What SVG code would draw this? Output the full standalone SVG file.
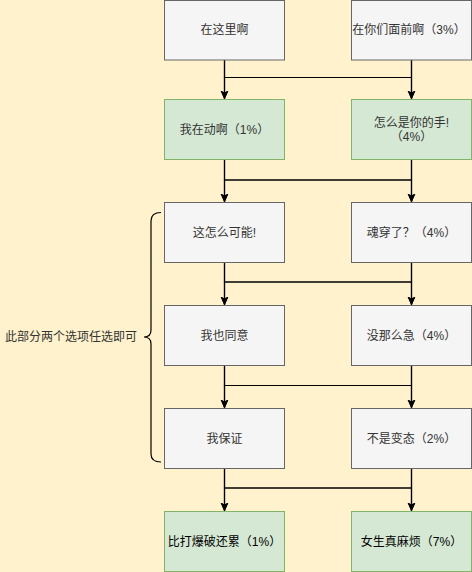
<svg xmlns="http://www.w3.org/2000/svg" width="472" height="572" viewBox="0 0 472 572">
<style>
.g{fill:#f5f5f5;stroke:#666666;stroke-width:1}
.gr{fill:#d5e8d4;stroke:#82b366;stroke-width:1}
text{font-family:"Liberation Sans","Noto Sans CJK SC",sans-serif;font-size:12px;fill:#333333;text-anchor:middle;dominant-baseline:central}
.k{fill:#000000}
.e{fill:none;stroke:#000000;stroke-width:1.2}
</style>
<defs>
<marker id="arr" markerUnits="userSpaceOnUse" markerWidth="10" markerHeight="10" viewBox="0 0 10 10" refX="9" refY="5" orient="auto">
<path d="M0,1 L9,5 L0,9 L2,5 z" fill="#000000"/>
</marker>
</defs>
<rect x="0" y="0" width="472" height="572" fill="#fff2cc"/>
<g id="connectors">
<path class="e" d="M224.5,60 V99.5" marker-end="url(#arr)"/>
<path class="e" d="M411.5,60 V99.5" marker-end="url(#arr)"/>
<path class="e" d="M224.5,60 V77.5 H411.5 V99.5" marker-end="url(#arr)"/>
<path class="e" d="M411.5,60 V77.5 H224.5 V99.5" marker-end="url(#arr)"/>
<path class="e" d="M224.5,159.5 V202.5" marker-end="url(#arr)"/>
<path class="e" d="M411.5,159.5 V202.5" marker-end="url(#arr)"/>
<path class="e" d="M224.5,159.5 V180 H411.5 V202.5" marker-end="url(#arr)"/>
<path class="e" d="M411.5,159.5 V180 H224.5 V202.5" marker-end="url(#arr)"/>
<path class="e" d="M224.5,262.5 V305.5" marker-end="url(#arr)"/>
<path class="e" d="M411.5,262.5 V305.5" marker-end="url(#arr)"/>
<path class="e" d="M224.5,262.5 V282 H411.5 V305.5" marker-end="url(#arr)"/>
<path class="e" d="M411.5,262.5 V282 H224.5 V305.5" marker-end="url(#arr)"/>
<path class="e" d="M224.5,365.5 V408.5" marker-end="url(#arr)"/>
<path class="e" d="M411.5,365.5 V408.5" marker-end="url(#arr)"/>
<path class="e" d="M224.5,365.5 V385.5 H411.5 V408.5" marker-end="url(#arr)"/>
<path class="e" d="M411.5,365.5 V385.5 H224.5 V408.5" marker-end="url(#arr)"/>
<path class="e" d="M224.5,468.5 V511.5" marker-end="url(#arr)"/>
<path class="e" d="M411.5,468.5 V511.5" marker-end="url(#arr)"/>
<path class="e" d="M224.5,468.5 V488 H411.5 V511.5" marker-end="url(#arr)"/>
<path class="e" d="M411.5,468.5 V488 H224.5 V511.5" marker-end="url(#arr)"/>
</g>
<g id="n1"><rect class="g" x="164.5" y="0.5" width="120" height="59.5"/><text x="224.5" y="30">在这里啊</text></g>
<g id="n2"><rect class="g" x="351.5" y="0.5" width="120" height="59.5"/><text x="409" y="30">在你们面前啊（3%）</text></g>
<g id="n3"><rect class="gr" x="164.5" y="99.5" width="120" height="60"/><text x="224.5" y="129.5">我在动啊（1%）</text></g>
<g id="n4"><rect class="gr" x="351.5" y="99.5" width="120" height="60"/><text x="411.5" y="122.5">怎么是你的手!</text><text x="411.5" y="137">（4%）</text></g>
<g id="n5"><rect class="g" x="164.5" y="202.5" width="120" height="60"/><text x="224.5" y="232.5">这怎么可能!</text></g>
<g id="n6"><rect class="g" x="351.5" y="202.5" width="120" height="60"/><text x="411.5" y="232.5">魂穿了？（4%）</text></g>
<g id="n7"><rect class="g" x="164.5" y="305.5" width="120" height="60"/><text x="224.5" y="335.5">我也同意</text></g>
<g id="n8"><rect class="g" x="351.5" y="305.5" width="120" height="60"/><text x="411.5" y="335.5">没那么急（4%）</text></g>
<g id="n9"><rect class="g" x="164.5" y="408.5" width="120" height="60"/><text x="224.5" y="438.5">我保证</text></g>
<g id="n10"><rect class="g" x="351.5" y="408.5" width="120" height="60"/><text x="411.5" y="438.5">不是变态（2%）</text></g>
<g id="n11"><rect class="gr" x="164.5" y="511.5" width="120" height="60"/><text class="k" x="224.5" y="541.5">比打爆破还累（1%）</text></g>
<g id="n12"><rect class="gr" x="351.5" y="511.5" width="120" height="60"/><text class="k" x="411.5" y="541.5">女生真麻烦（7%）</text></g>
<g id="brace">
<path class="e" d="M161,212.5 Q151,212.5 151,221 V330 Q151,337 144,337 Q151,337 151,344 V454 Q151,462 161,462"/>
<text x="137" y="337" style="text-anchor:end">此部分两个选项任选即可</text>
</g>
</svg>
